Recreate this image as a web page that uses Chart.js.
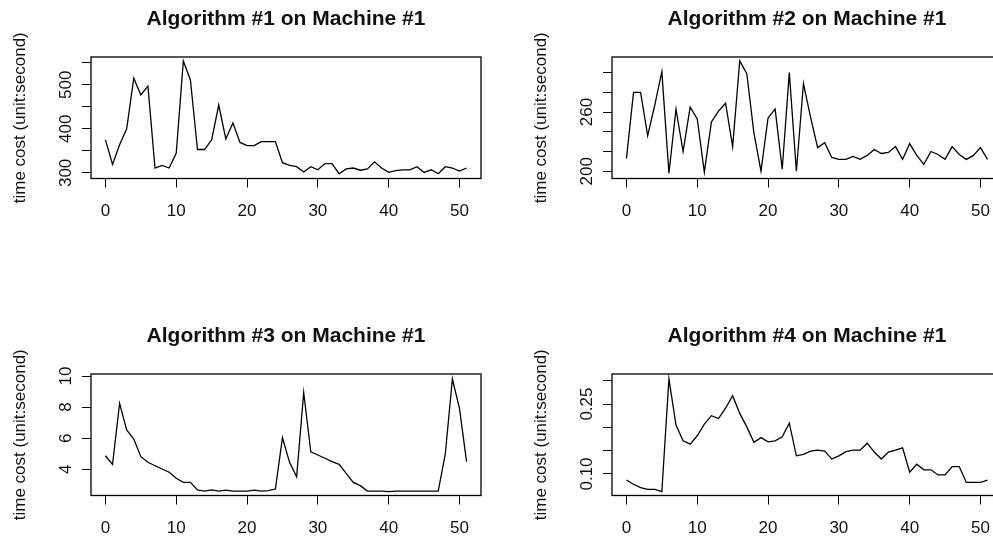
<!DOCTYPE html>
<html>
<head>
<meta charset="utf-8">
<script src="https://cdn.jsdelivr.net/npm/chart.js@4/dist/chart.umd.min.js"></script>
<style>
  body { margin: 0; background: #fff; width: 993px; height: 542px; overflow: hidden; position: relative; }
  .panel { position: absolute; width: 521px; height: 317px; }
</style>
</head>
<body>
<div class="panel" style="left:0;top:0"><canvas id="c1" width="521" height="317"></canvas></div>
<div class="panel" style="left:521px;top:0"><canvas id="c2" width="521" height="317"></canvas></div>
<div class="panel" style="left:0;top:317px"><canvas id="c3" width="521" height="317"></canvas></div>
<div class="panel" style="left:521px;top:317px"><canvas id="c4" width="521" height="317"></canvas></div>
<script>
const runs = [0,1,2,3,4,5,6,7,8,9,10,11,12,13,14,15,16,17,18,19,20,21,22,23,24,25,
  26,27,28,29,30,31,32,33,34,35,36,37,38,39,40,41,42,43,44,45,46,47,48,49,50,51];

const algo1 = [375,319,364,400,515,477,497,311,317,311,345,554,511,353,353,375,454,377,413,369,
  362,362,371,371,371,323,317,314,302,314,307,321,321,298,309,311,306,309,325,311,
  301,305,307,307,314,301,307,298,314,311,304,311];
const algo2 = [213,280,280,236,267,301,198,263,220,265,253,199,250,261,269,225,312,299,239,200,
  254,263,202,300,200,289,255,224,229,214,212,212,215,212,216,222,218,219,225,212,
  228,216,207,220,217,212,225,217,212,216,224,212];
const algo3 = [4.87,4.32,8.24,6.53,5.95,4.81,4.45,4.23,4.02,3.81,3.42,3.16,3.16,2.67,2.60,2.67,2.60,2.66,2.60,2.60,
  2.60,2.66,2.60,2.63,2.73,6.03,4.45,3.52,8.95,5.13,4.92,4.71,4.49,4.32,3.74,3.16,2.95,2.60,2.60,2.60,
  2.56,2.60,2.60,2.60,2.60,2.60,2.60,2.60,5.0,9.81,7.92,4.49];
const algo4 = [0.087,0.078,0.071,0.067,0.067,0.062,0.304,0.205,0.171,0.164,0.182,0.207,0.225,0.219,0.241,0.268,0.230,0.201,0.168,0.178,
  0.169,0.171,0.180,0.209,0.139,0.142,0.149,0.151,0.149,0.132,0.139,0.148,0.151,0.151,0.166,0.147,0.132,0.147,0.151,0.156,
  0.104,0.121,0.109,0.109,0.098,0.098,0.116,0.116,0.082,0.082,0.082,0.087];

const xTicks = [0,10,20,30,40,50];
const yTicks1 = [300,350,400,450,500,550], yLabels1 = ['300','400','500'];
const yTicks2 = [200,220,240,260,280,300], yLabels2 = ['200','260'];
const yTicks3 = [4,6,8,10], yLabels3 = ['4','6','8','10'];
const yTicks4 = [0.10,0.15,0.20,0.25,0.30], yLabels4 = ['0.10','0.25'];

const FONT = '"Liberation Sans", Arial, sans-serif';

// R-style frame, titles and labels
const rFrame = {
  id: 'rFrame',
  afterDraw(chart) {
    const o = chart.options.plugins.rFrame;
    const { ctx, chartArea: a } = chart;
    const xs = chart.scales.x, ys = chart.scales.y;
    ctx.save();
    ctx.strokeStyle = '#000';
    ctx.lineWidth = 1.3;
    ctx.strokeRect(a.left, a.top, a.right - a.left, a.bottom - a.top);

    ctx.fillStyle = '#111';
    ctx.font = '17px ' + FONT;
    ctx.textAlign = 'center';
    ctx.textBaseline = 'alphabetic';
    xTicks.forEach(v => ctx.fillText(String(v), xs.getPixelForValue(v), a.bottom + 37.5));

    o.yLabels.forEach(s => {
      ctx.save();
      ctx.translate(a.left - 20.5, ys.getPixelForValue(parseFloat(s)));
      ctx.rotate(-Math.PI / 2);
      ctx.fillText(s, 0, 0);
      ctx.restore();
    });

    ctx.save();
    ctx.translate(a.left - 66, (a.top + a.bottom) / 2);
    ctx.rotate(-Math.PI / 2);
    ctx.fillText('time cost (unit:second)', 0, 0);
    ctx.restore();

    ctx.font = 'bold 21px ' + FONT;
    ctx.fillText(o.title, (a.left + a.right) / 2, a.top - 32.5);
    ctx.restore();
  }
};

function makeChart(id, title, values, yMin, yMax, yTicks, yLabels) {
  return new Chart(document.getElementById(id), {
    type: 'line',
    data: {
      labels: runs,
      datasets: [{
        data: values,
        borderColor: '#000',
        borderWidth: 1.3,
        pointRadius: 0,
        tension: 0,
        fill: false
      }]
    },
    options: {
      responsive: false,
      animation: false,
      devicePixelRatio: 1,
      layout: { padding: { left: 91, top: 57, right: 40, bottom: 138.5 } },
      scales: {
        x: {
          type: 'linear', min: -2.04, max: 53.04, bounds: 'data',
          ticks: { display: false },
          grid: { drawOnChartArea: false, drawTicks: true, tickLength: 9, color: '#000', lineWidth: 1 },
          border: { display: false },
          afterBuildTicks: s => { s.ticks = xTicks.map(v => ({ value: v })); },
          afterFit: s => { s.height = 0; }
        },
        y: {
          type: 'linear', min: yMin, max: yMax, bounds: 'data',
          ticks: { display: false },
          grid: { drawOnChartArea: false, drawTicks: true, tickLength: 9, color: '#000', lineWidth: 1 },
          border: { display: false },
          afterBuildTicks: s => { s.ticks = yTicks.map(v => ({ value: v })); },
          afterFit: s => { s.width = 0; }
        }
      },
      plugins: {
        legend: { display: false },
        tooltip: { enabled: false },
        rFrame: { title: title, yLabels: yLabels }
      }
    },
    plugins: [rFrame]
  });
}

makeChart('c1', 'Algorithm #1 on Machine #1', algo1, 287.2, 563, yTicks1, yLabels1);
makeChart('c2', 'Algorithm #2 on Machine #1', algo2, 192.6, 315.9, yTicks2, yLabels2);
makeChart('c3', 'Algorithm #3 on Machine #1', algo3, 2.315, 10.13, yTicks3, yLabels3);
makeChart('c4', 'Algorithm #4 on Machine #1', algo4, 0.0539, 0.3144, yTicks4, yLabels4);
</script>
</body>
</html>
